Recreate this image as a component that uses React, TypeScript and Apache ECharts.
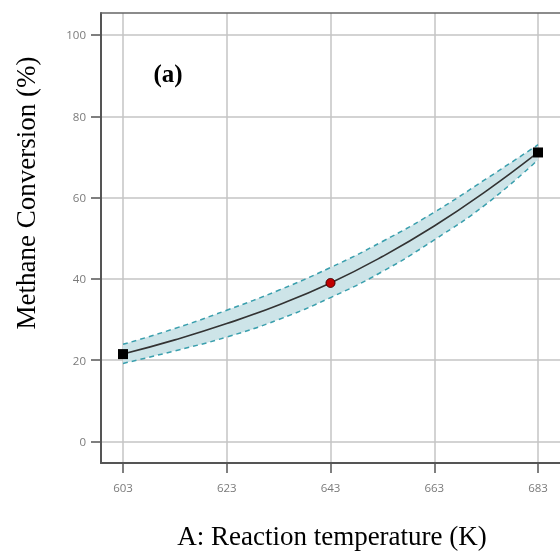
import React, { useEffect, useRef } from "react";
import * as echarts from "echarts";

const temps = [603, 613, 623, 633, 643, 653, 663, 673, 683];
const meanVals = [21.5, 25.0, 29.0, 33.6, 39.0, 45.5, 53.0, 61.6, 71.1];
const upperVals = [23.9, 27.8, 32.3, 37.2, 42.8, 49.2, 56.4, 64.6, 73.0];
const lowerVals = [19.2, 22.3, 25.7, 30.0, 35.4, 41.8, 49.6, 58.4, 69.3];
const designPoints = [
  [603, 21.5],
  [683, 71.1],
];
const centerPoint = [[643, 39.0]];
const xTicks = [603, 623, 643, 663, 683];
const yTicks = [0, 20, 40, 60, 80, 100];

const X_MIN = 598.76;
const X_MAX = 687.24;
const Y_MIN = -5.29;
const Y_MAX = 105.41;

export default function App() {
  const ref = useRef<HTMLDivElement>(null);
  useEffect(() => {
    if (!ref.current) return;
    const chart = echarts.init(ref.current, undefined, { renderer: "svg" });
    const bandDiff = upperVals.map((u, i) => +(u - lowerVals[i]).toFixed(2));
    const labelStyle = {
      color: "#7a7a7a",
      fontSize: 11.5,
      fontFamily: "Open Sans",
    };
    chart.setOption({
      animation: false,
      grid: [
        { left: 101, top: 13, right: 0, bottom: 90 },
        { left: 123, top: 13, right: 22, bottom: 90 },
      ],
      xAxis: [
        {
          type: "value",
          gridIndex: 0,
          min: X_MIN,
          max: X_MAX,
          axisLine: { show: true, onZero: false, lineStyle: { color: "#555", width: 2 } },
          axisTick: {
            show: true,
            length: 10,
            customValues: xTicks,
            lineStyle: { color: "#555", width: 1.5 },
          },
          axisLabel: { ...labelStyle, margin: 18, customValues: xTicks },
          splitLine: { show: true, lineStyle: { color: "#c4c4c4", width: 1.5 } },
        },
        {
          type: "value",
          gridIndex: 0,
          position: "top",
          min: X_MIN,
          max: X_MAX,
          axisLine: { show: true, onZero: false, lineStyle: { color: "#666", width: 1.5 } },
          axisTick: { show: false },
          axisLabel: { show: false },
          splitLine: { show: false },
        },
        {
          type: "category",
          gridIndex: 1,
          data: temps.map(String),
          boundaryGap: false,
          show: false,
        },
      ],
      yAxis: [
        {
          type: "value",
          gridIndex: 0,
          min: Y_MIN,
          max: Y_MAX,
          axisLine: { show: true, onZero: false, lineStyle: { color: "#555", width: 2 } },
          axisTick: {
            show: true,
            length: 10,
            customValues: yTicks,
            lineStyle: { color: "#555", width: 1.5 },
          },
          axisLabel: { ...labelStyle, margin: 15, customValues: yTicks },
          splitLine: { show: true, lineStyle: { color: "#c4c4c4", width: 1.5 } },
        },
        {
          type: "value",
          gridIndex: 1,
          min: Y_MIN,
          max: Y_MAX,
          show: false,
          splitLine: { show: false },
        },
      ],
      series: [
        {
          type: "line",
          xAxisIndex: 2,
          yAxisIndex: 1,
          data: lowerVals,
          stack: "band",
          smooth: true,
          symbol: "none",
          lineStyle: { opacity: 0 },
          silent: true,
          z: 1,
        },
        {
          type: "line",
          xAxisIndex: 2,
          yAxisIndex: 1,
          data: bandDiff,
          stack: "band",
          smooth: true,
          symbol: "none",
          lineStyle: { opacity: 0 },
          areaStyle: { color: "#cde4e8", opacity: 1 },
          silent: true,
          z: 1,
        },
        {
          type: "line",
          data: temps.map((t, i) => [t, upperVals[i]]),
          smooth: true,
          symbol: "none",
          lineStyle: { color: "#3a9fad", width: 1.5, type: [5, 4] },
          z: 3,
        },
        {
          type: "line",
          data: temps.map((t, i) => [t, lowerVals[i]]),
          smooth: true,
          symbol: "none",
          lineStyle: { color: "#3a9fad", width: 1.5, type: [5, 4] },
          z: 3,
        },
        {
          type: "line",
          data: temps.map((t, i) => [t, meanVals[i]]),
          smooth: true,
          symbol: "none",
          lineStyle: { color: "#333", width: 1.6 },
          z: 4,
        },
        {
          type: "scatter",
          data: designPoints,
          symbol: "rect",
          symbolSize: 10,
          itemStyle: { color: "#000", borderWidth: 0, opacity: 1 },
          z: 6,
        },
        {
          type: "scatter",
          data: centerPoint,
          symbol: "circle",
          symbolSize: 9,
          itemStyle: { color: "#c00000", borderColor: "#400", borderWidth: 1, opacity: 1 },
          z: 6,
        },
      ],
      graphic: [
        {
          type: "text",
          x: 26,
          y: 193,
          rotation: Math.PI / 2,
          style: {
            text: "Methane Conversion (%)",
            font: '27px "Liberation Serif"',
            fill: "#000",
            align: "center",
            verticalAlign: "middle",
          },
        },
        {
          type: "text",
          x: 332,
          y: 536,
          style: {
            text: "A: Reaction temperature (K)",
            font: '27px "Liberation Serif"',
            fill: "#000",
            align: "center",
            verticalAlign: "middle",
          },
        },
        {
          type: "text",
          x: 168,
          y: 73,
          style: {
            text: "(a)",
            font: 'bold 25px "Liberation Serif"',
            fill: "#000",
            align: "center",
            verticalAlign: "middle",
          },
        },
      ],
    });
    return () => chart.dispose();
  }, []);
  return (
    <div
      ref={ref}
      style={{ position: "fixed", left: 0, top: 0, width: 560, height: 553 }}
    />
  );
}
